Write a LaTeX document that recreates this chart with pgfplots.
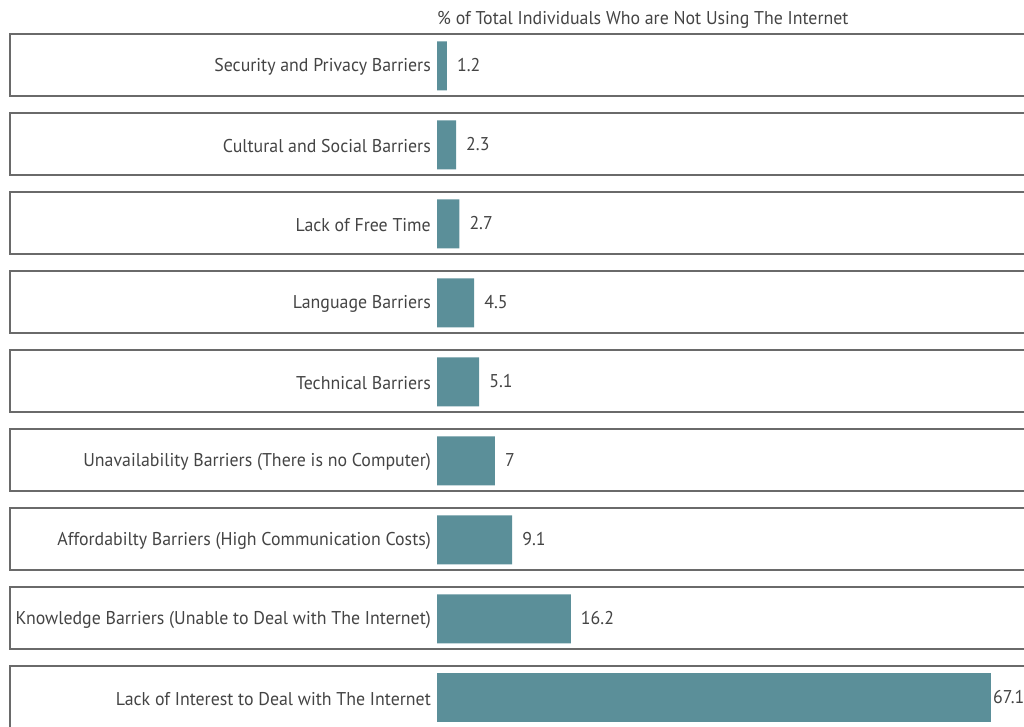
\documentclass[border=0pt]{standalone}
\usepackage{fontspec}
\setmainfont{PT Sans}[FakeStretch=0.965]
\usepackage{pgfplots}
\pgfplotsset{compat=1.18}
\definecolor{barcol}{HTML}{5B8F99}
\definecolor{boxcol}{HTML}{6A6A6A}
\definecolor{txtcol}{HTML}{444444}
\newcommand{\lblfont}{\fontsize{18.5}{20}\selectfont}
\begin{document}
\begin{tikzpicture}
\begin{axis}[
  anchor=south west, at={(0pt,0pt)},
  scale only axis, width=1024pt, height=727pt,
  xmin=-52.93, xmax=71.10,
  ymin=-0.8228, ymax=8.380, y dir=reverse,
  axis line style={draw=none}, tick style={draw=none},
  xtick=\empty,
  ytick={0,1,2,3,4,5,6,7,8},
  yticklabels={Security and Privacy Barriers, Cultural and Social Barriers, Lack of Free Time, Language Barriers, Technical Barriers, Unavailability Barriers (There is no Computer), Affordabilty Barriers (High Communication Costs), Knowledge Barriers (Unable to Deal with The Internet), Lack of Interest to Deal with The Internet},
  yticklabel style={anchor=east, xshift=431pt, yshift=-2pt, font=\lblfont, text=txtcol, inner sep=0pt},
  unbounded coords=jump,
]
\addplot[forget plot, line width=1.3pt, boxcol, no marks, sharp plot] coordinates {
(80,-0.3924) (-51.72,-0.3924) (-51.72,0.3924) (80,0.3924) (nan,nan)
(80,0.6076) (-51.72,0.6076) (-51.72,1.3924) (80,1.3924) (nan,nan)
(80,1.6076) (-51.72,1.6076) (-51.72,2.3924) (80,2.3924) (nan,nan)
(80,2.6076) (-51.72,2.6076) (-51.72,3.3924) (80,3.3924) (nan,nan)
(80,3.6076) (-51.72,3.6076) (-51.72,4.3924) (80,4.3924) (nan,nan)
(80,4.6076) (-51.72,4.6076) (-51.72,5.3924) (80,5.3924) (nan,nan)
(80,5.6076) (-51.72,5.6076) (-51.72,6.3924) (80,6.3924) (nan,nan)
(80,6.6076) (-51.72,6.6076) (-51.72,7.3924) (80,7.3924) (nan,nan)
(80,7.6076) (-51.72,7.6076) (-51.72,8.3924) (80,8.3924)
};
\addplot[xbar, bar width=49pt, bar shift=-1pt, fill=barcol, draw=none,
  nodes near coords, nodes near coords align={horizontal},
  every node near coord/.append style={anchor=west, xshift=10pt, yshift=0pt, inner sep=0pt, text=txtcol, font=\lblfont},
  point meta=explicit symbolic]
 coordinates {(1.2,0)[1.2] (2.3,1)[2.3] (2.7,2)[2.7] (4.5,3)[4.5] (5.1,4)[5.1] (7,5)[7] (9.1,6)[9.1] (16.2,7)[16.2]};
\addplot[xbar, bar width=49pt, bar shift=-1pt, fill=barcol, draw=none,
  nodes near coords, nodes near coords align={horizontal},
  every node near coord/.append style={anchor=west, xshift=2pt, yshift=0pt, inner sep=0pt, text=txtcol, font=\lblfont},
  point meta=explicit symbolic]
 coordinates {(67.1,8)[67.1]};
\node[anchor=west, inner sep=0pt, text=txtcol, font=\lblfont, yshift=-2pt] at (axis cs:0,-0.6) {\% of Total Individuals Who are Not Using The Internet};
\end{axis}
\pgfresetboundingbox
\useasboundingbox (0pt,0pt) rectangle (1024pt,727pt);
\end{tikzpicture}
\end{document}
